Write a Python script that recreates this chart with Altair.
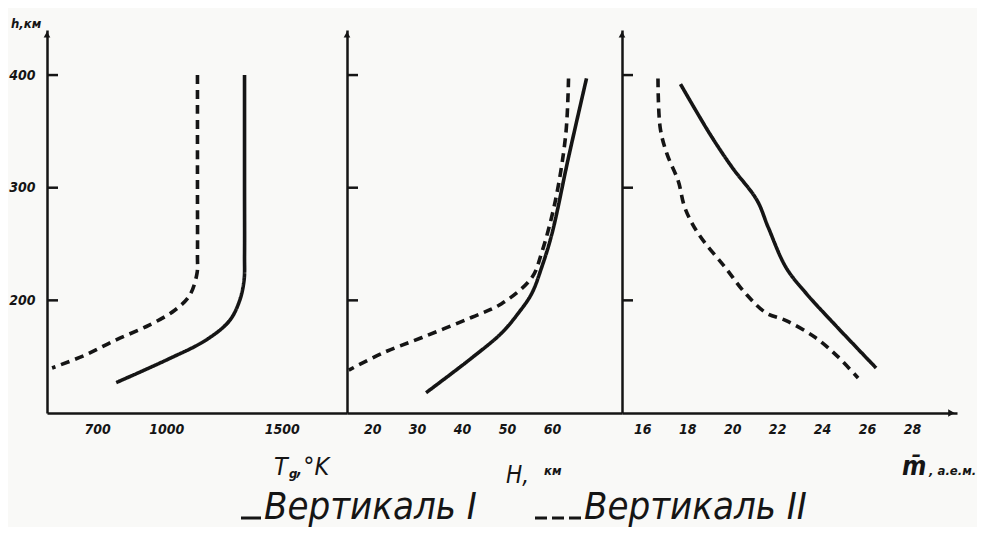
import altair as alt
import pandas as pd

# ---------------- data ----------------
H_TICKS = [200, 300, 400]

# Panel 1: temperature T_g, K
t_h_I = [400, 300, 240, 218, 200, 182, 165, 147, 127]
t_v_I = [1339, 1339, 1339, 1337, 1318, 1274, 1174, 1000, 783]
t_h_II = [400, 300, 240, 224, 204, 191, 178, 165, 151, 140]
t_v_II = [1135, 1135, 1135, 1133, 1100, 1035, 926, 783, 644, 505]
T_TICKS = [700, 1000, 1500]

# Panel 2: scale height H, km
s_h_I = [397, 327, 259, 229, 206, 189, 171, 149, 118]
s_v_I = [67.7, 63.7, 60.0, 57.7, 55.5, 52.6, 48.8, 42.2, 32.0]
s_h_II = [397, 348, 289, 242, 220, 197, 185, 167, 153, 138]
s_v_II = [63.7, 63.1, 60.8, 57.7, 55.5, 48.8, 42.2, 31.1, 22.2, 14.8]
H_AX_TICKS = [20, 30, 40, 50, 60]

# Panel 3: mean molecular mass, a.m.u.
m_h_I = [392, 348, 318, 289, 265, 229, 206, 182, 140]
m_v_I = [17.7, 19.0, 20.0, 21.1, 21.6, 22.4, 23.3, 24.4, 26.4]
m_h_II = [397, 353, 330, 306, 282, 259, 229, 206, 189, 182, 167, 150, 131]
m_v_II = [16.7, 16.8, 17.1, 17.6, 17.9, 18.5, 19.7, 20.6, 21.5, 22.4, 23.7, 24.7, 25.6]
M_TICKS = [16, 18, 20, 22, 24, 26, 28]

SERIES = ["I", "II"]

# ---------------- style ----------------
FONT = "DejaVu Sans Condensed"
INK = "#151515"
BG = "#f9f9f7"
Y_DOM = [100, 440]
PLOT_H = 383


def frame(h1, v1, h2, v2):
    rows = []
    for i, (h, v) in enumerate(zip(h1, v1)):
        rows.append({"h": h, "v": v, "s": "I", "i": i})
    for i, (h, v) in enumerate(zip(h2, v2)):
        rows.append({"h": h, "v": v, "s": "II", "i": i})
    return pd.DataFrame(rows)


def yenc(axis):
    return alt.Y("h:Q", scale=alt.Scale(domain=Y_DOM, nice=False, zero=False), axis=axis)


def xaxis(vals):
    return alt.Axis(values=vals, format="d", ticks=False, grid=False, title=None, labelPadding=9,
                    labelFont=FONT, labelFontSize=14, labelFontStyle="italic",
                    labelFontWeight="bold", labelColor=INK, domainColor=INK,
                    domainWidth=2.5, labelFlush=False, labelOverlap=False)


def txt(s, x, y, size, weight="normal", align="left", baseline="alphabetic"):
    return alt.Chart(pd.DataFrame({"k": [0]})).mark_text(
        text=s, align=align, baseline=baseline, font=FONT, fontSize=size,
        fontStyle="italic", fontWeight=weight, color=INK
    ).encode(x=alt.value(x), y=alt.value(y))


def panel(df, dom, ticks, width, yaxis, extra):
    xs = alt.Scale(domain=dom, nice=False, zero=False)
    lines = alt.Chart(df).mark_line(strokeWidth=3.6, color=INK, interpolate="catmull-rom",
                                    strokeCap="butt").encode(
        x=alt.X("v:Q", scale=xs, axis=xaxis(ticks)),
        y=yenc(yaxis),
        order="i:Q",
        detail="s:N",
        strokeDash=alt.StrokeDash("s:N", scale=alt.Scale(domain=SERIES, range=[[1, 0], [9, 6]]),
                                  legend=None),
    )
    tick_marks = alt.Chart(pd.DataFrame({"h": H_TICKS})).mark_rule(
        color=INK, strokeWidth=2.5).encode(
        y=alt.Y("h:Q"), x=alt.value(0), x2=alt.value(11))
    arrow_up = alt.Chart(pd.DataFrame({"k": [0]})).mark_point(
        shape="triangle-up", filled=True, size=45, color=INK, opacity=1).encode(
        x=alt.value(0), y=alt.datum(436))
    return alt.layer(lines, tick_marks, arrow_up, *extra).properties(width=width, height=PLOT_H)


y_main = alt.Axis(values=H_TICKS, format="d", ticks=False, grid=False, title=None, labelPadding=12,
                  labelFont=FONT, labelFontSize=14, labelFontStyle="italic",
                  labelFontWeight="bold", labelColor=INK, domainColor=INK, domainWidth=2.5)
y_side = alt.Axis(labels=False, ticks=False, grid=False, title=None,
                  domainColor=INK, domainWidth=2.5)

p1_extra = [
    txt("h,км", -36, -2, 13, "bold"),
    txt("T", 227, 445, 25),
    txt("g", 242, 448, 13, "bold"),
    txt(",°K", 249, 445, 25),
    alt.Chart(pd.DataFrame({"k": [0]})).mark_rule(color=INK, strokeWidth=3).encode(
        x=alt.value(194), x2=alt.value(214), y=alt.value(488)),
    txt("Вертикаль I", 217, 489, 38),
    alt.Chart(pd.DataFrame({"k": [0]})).mark_rule(color=INK, strokeWidth=3, strokeDash=[12, 5]).encode(
        x=alt.value(488), x2=alt.value(534), y=alt.value(488)),
    txt("Вертикаль II", 537, 489, 38),
]
p2_extra = [
    txt("H,", 159, 453, 24),
    txt("км", 197, 445, 13, "bold"),
]
arrow_right = alt.Chart(pd.DataFrame({"k": [0]})).mark_point(
    shape="triangle-right", filled=True, size=55, color=INK, opacity=1).encode(
    x=alt.datum(29.75), y=alt.datum(100))
p3_extra = [
    arrow_right,
    txt("m\u0304", 280, 445, 26, "bold"),
    txt(", а.е.м.", 307, 445, 13, "bold"),
]

p1 = panel(frame(t_h_I, t_v_I, t_h_II, t_v_II), [483, 1783], T_TICKS, 300, y_main, p1_extra)
p2 = panel(frame(s_h_I, s_v_I, s_h_II, s_v_II), [14.4, 75.6], H_AX_TICKS, 275, y_side, p2_extra)
p3 = panel(frame(m_h_I, m_v_I, m_h_II, m_v_II), [15.1, 30.0], M_TICKS, 335, y_side, p3_extra)

chart = alt.hconcat(p1, p2, p3, spacing=0, bounds="flush").properties(
    background=BG,
    padding={"left": 0, "top": 10, "right": 0, "bottom": 0},
).configure_view(stroke=None)

chart.save("out.html", embed_options={"renderer": "svg", "actions": False})
